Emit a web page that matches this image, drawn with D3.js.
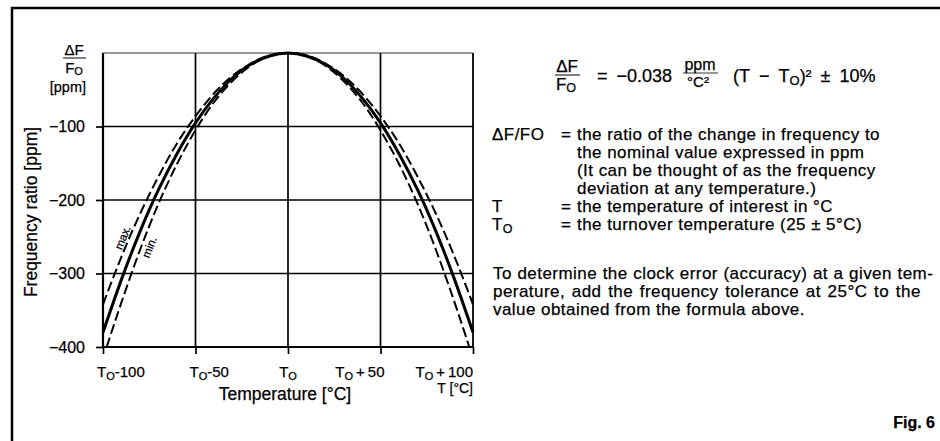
<!DOCTYPE html>
<html>
<head>
<meta charset="utf-8">
<script src="https://cdn.jsdelivr.net/npm/d3@7"></script>
<style>
  body { margin: 0; background: #fff; }
  svg { display: block; }
  text { font-family: "Liberation Sans", Arial, Helvetica, sans-serif; fill: #000; stroke: #000; stroke-width: 0.25px; }
</style>
</head>
<body>
<div id="chart"></div>
<script>
// values (temperature offset from To in °C, frequency ratio in ppm)
var tempOffsets = [-100, -90, -80, -70, -60, -50, -40, -30, -20, -10, 0, 10, 20, 30, 40, 50, 60, 70, 80, 90, 100];
var ratioNominal = [-380, -308, -243, -186, -137, -95, -61, -34, -15, -4, 0, -4, -15, -34, -61, -95, -137, -186, -243, -308, -380];
var ratioMax = [-342, -277, -219, -168, -123, -86, -55, -31, -14, -3, 0, -3, -14, -31, -55, -86, -123, -168, -219, -277, -342];
var tempOffsetsMin = [-98, -90, -80, -70, -60, -50, -40, -30, -20, -10, 0, 10, 20, 30, 40, 50, 60, 70, 80, 90, 98];
var ratioMin = [-400, -339, -268, -205, -151, -105, -67, -38, -17, -4, 0, -4, -17, -38, -67, -105, -151, -205, -268, -339, -400];

var xTicks = [-100, -50, 0, 50, 100];
var xTickSuffix = ["-100", "-50", "", "\u2009+\u200950", "\u2009+\u2009100"];
var yTicks = [-100, -200, -300, -400];
var yTickLabels = ["\u2212100", "\u2212200", "\u2212300", "\u2212400"];

var legendLines = [
  ["\u0394F/FO", "=", "the ratio of the change in frequency to"],
  ["", "", "the nominal value expressed in ppm"],
  ["", "", "(It can be thought of as the frequency"],
  ["", "", "deviation at any temperature.)"],
  ["T", "=", "the temperature of interest in \u00b0C"],
  ["To", "=", "the turnover temperature (25 \u00b1 5\u00b0C)"]
];
var noteLines = [
  "To determine the clock error (accuracy) at a given tem-",
  "perature, add the frequency tolerance at 25\u00b0C to the",
  "value obtained from the formula above."
];

var svgWidth = 940, svgHeight = 441;
var margin = { top: 53, left: 103 };
var width = 370, height = 294;

var svg = d3.select("#chart").append("svg")
  .attr("width", svgWidth)
  .attr("height", svgHeight);

// outer frame (runs off the right and bottom edges)
svg.append("rect")
  .attr("x", 12).attr("y", 8)
  .attr("width", 960).attr("height", 460)
  .attr("fill", "none").attr("stroke", "#000").attr("stroke-width", 2.5);

var chartGroup = svg.append("g")
  .attr("transform", `translate(${margin.left}, ${margin.top})`);

var xScale = d3.scaleLinear().domain([-100, 100]).range([0, width]);
var yScale = d3.scaleLinear().domain([-400, 0]).range([height, 0]);

// grid
chartGroup.selectAll(".hgrid")
  .data(yTicks.filter(d => d > -400))
  .enter().append("line")
  .attr("x1", 0).attr("x2", width)
  .attr("y1", d => yScale(d)).attr("y2", d => yScale(d))
  .attr("stroke", "#000").attr("stroke-width", 1.5);

chartGroup.selectAll(".vgrid")
  .data(xTicks.filter(d => d > -100 && d < 100))
  .enter().append("line")
  .attr("x1", d => xScale(d)).attr("x2", d => xScale(d))
  .attr("y1", 0).attr("y2", height)
  .attr("stroke", "#000").attr("stroke-width", 1.7);

// plot frame
chartGroup.append("line").attr("x1", 0).attr("x2", width).attr("y1", 0).attr("y2", 0)
  .attr("stroke", "#333").attr("stroke-width", 1);
chartGroup.append("line").attr("x1", 0).attr("x2", 0).attr("y1", 0).attr("y2", height)
  .attr("stroke", "#000").attr("stroke-width", 2.2);
chartGroup.append("line").attr("x1", width).attr("x2", width).attr("y1", 0).attr("y2", height)
  .attr("stroke", "#000").attr("stroke-width", 1.8);

// axes
var yAxis = d3.axisLeft(yScale)
  .tickValues(yTicks)
  .tickSize(7)
  .tickPadding(11)
  .tickFormat((d, i) => yTickLabels[i]);

var yG = chartGroup.append("g").call(yAxis);
yG.select(".domain").remove();
yG.selectAll("line").attr("stroke-width", 1.7);
yG.selectAll("text")
  .attr("font-size", "16px")
  .attr("font-family", "'Liberation Sans', Arial, sans-serif");

var xAxis = d3.axisBottom(xScale).tickValues(xTicks).tickSize(7).tickFormat("");
var xG = chartGroup.append("g")
  .attr("transform", `translate(0, ${height})`)
  .call(xAxis);
xG.select(".domain").attr("stroke-width", 2.2).attr("d", `M0,0H${width}`);
xG.selectAll("line").attr("stroke-width", 1.7);

// x tick labels with subscript O
xTicks.forEach(function(v, i) {
  var anchor = v < 0 ? "start" : (v > 0 ? "end" : "middle");
  var dx = v < 0 ? -6 : (v > 0 && v < 100 ? 4 : 0);
  var t = chartGroup.append("text")
    .attr("x", xScale(v) + dx)
    .attr("y", height + 30)
    .attr("text-anchor", anchor)
    .attr("font-size", "15px");
  t.append("tspan").text("T");
  t.append("tspan").attr("font-size", "11px").attr("dy", 3).text("O");
  if (xTickSuffix[i]) t.append("tspan").attr("dy", -3).text(xTickSuffix[i]);
});

// axis titles
chartGroup.append("text")
  .attr("x", xScale(0) - 3)
  .attr("y", height + 53)
  .attr("text-anchor", "middle")
  .attr("font-size", "17.5px")
  .text("Temperature [\u00b0C]");

chartGroup.append("text")
  .attr("x", width)
  .attr("y", height + 46)
  .attr("text-anchor", "end")
  .attr("font-size", "14px")
  .text("T [\u00b0C]");

svg.append("text")
  .attr("transform", "rotate(-90)")
  .attr("x", -212)
  .attr("y", 37)
  .attr("text-anchor", "middle")
  .attr("font-size", "17.5px")
  .text("Frequency ratio [ppm]");

// dF/Fo [ppm] label
svg.append("text").attr("x", 74).attr("y", 55).attr("text-anchor", "middle")
  .attr("font-size", "15px").text("\u0394F");
svg.append("line").attr("x1", 63).attr("x2", 86).attr("y1", 58).attr("y2", 58)
  .attr("stroke", "#000").attr("stroke-width", 1);
var fo = svg.append("text").attr("x", 74).attr("y", 73).attr("text-anchor", "middle")
  .attr("font-size", "15px");
fo.append("tspan").text("F");
fo.append("tspan").attr("font-size", "11px").attr("dy", 2).text("O");
svg.append("text").attr("x", 86).attr("y", 92).attr("text-anchor", "end")
  .attr("font-size", "14.5px").text("[ppm]");

// curves
var line = d3.line()
  .x(d => xScale(d[0]))
  .y(d => yScale(d[1]))
  .curve(d3.curveNatural);

chartGroup.append("path")
  .datum(d3.zip(tempOffsets, ratioMax))
  .attr("d", line)
  .attr("fill", "none").attr("stroke", "#000")
  .attr("stroke-width", 2).attr("stroke-dasharray", "10,4");

chartGroup.append("path")
  .datum(d3.zip(tempOffsetsMin, ratioMin))
  .attr("d", line)
  .attr("fill", "none").attr("stroke", "#000")
  .attr("stroke-width", 2).attr("stroke-dasharray", "10,4");

chartGroup.append("path")
  .datum(d3.zip(tempOffsets, ratioNominal))
  .attr("d", line)
  .attr("fill", "none").attr("stroke", "#000")
  .attr("stroke-width", 3);

// max. / min. labels along the left branch
chartGroup.append("text")
  .attr("transform", `translate(${xScale(-89) + 3}, ${yScale(-249) + 3}) rotate(-68)`)
  .attr("font-size", "11.5px")
  .attr("text-anchor", "middle")
  .text("max.");
chartGroup.append("text")
  .attr("transform", `translate(${xScale(-73)}, ${yScale(-262) + 3}) rotate(-68)`)
  .attr("font-size", "11.5px")
  .attr("text-anchor", "middle")
  .text("min.");

// formula
svg.append("text").attr("x", 567).attr("y", 72).attr("text-anchor", "middle")
  .attr("font-size", "17px").text("\u0394F");
svg.append("line").attr("x1", 555).attr("x2", 580).attr("y1", 75).attr("y2", 75)
  .attr("stroke", "#000").attr("stroke-width", 1);
var f2 = svg.append("text").attr("x", 566).attr("y", 90).attr("text-anchor", "middle")
  .attr("font-size", "17px");
f2.append("tspan").text("F");
f2.append("tspan").attr("font-size", "12.5px").attr("dy", 2).text("O");

svg.append("text").attr("x", 597).attr("y", 82).attr("font-size", "18px")
  .text("=\u2002\u22120.038");
svg.append("text").attr("x", 700).attr("y", 70).attr("text-anchor", "middle")
  .attr("font-size", "16px").text("ppm");
svg.append("line").attr("x1", 683).attr("x2", 718).attr("y1", 73).attr("y2", 73)
  .attr("stroke", "#000").attr("stroke-width", 0.8);
svg.append("text").attr("x", 698).attr("y", 87).attr("text-anchor", "middle")
  .attr("font-size", "15px").text("\u00b0C\u00b2");
var f3 = svg.append("text").attr("x", 733).attr("y", 82).attr("font-size", "18px");
f3.append("tspan").text("(T\u2002\u2212\u2002T");
f3.append("tspan").attr("font-size", "13px").attr("dy", 3).text("O");
f3.append("tspan").attr("dy", -3).text(")\u00b2\u2002\u00b1\u200210%");

// definitions
var lineGap = 18;
var defs = svg.append("g").attr("font-size", "17px").attr("letter-spacing", "0.45px");
legendLines.forEach(function(row, i) {
  var y = 140 + i * lineGap;
  if (row[0] === "To") {
    var t = defs.append("text").attr("x", 492).attr("y", y);
    t.append("tspan").text("T");
    t.append("tspan").attr("font-size", "12.5px").attr("dy", 3).text("O");
  } else if (row[0]) {
    defs.append("text").attr("x", 492).attr("y", y).text(row[0]);
  }
  if (row[1]) defs.append("text").attr("x", 561).attr("y", y).text(row[1]);
  defs.append("text").attr("x", 577).attr("y", y).text(row[2]);
});

var notes = svg.append("g").attr("font-size", "17px").attr("letter-spacing", "0.45px");
noteLines.forEach(function(s, i) {
  notes.append("text")
    .attr("x", 493).attr("y", 279 + i * lineGap)
    .attr("word-spacing", i === 0 ? "0.4px" : (i === 1 ? "1.5px" : "0px"))
    .text(s);
});

svg.append("text")
  .attr("x", 935).attr("y", 428)
  .attr("text-anchor", "end")
  .attr("font-size", "16px").attr("font-weight", "bold")
  .text("Fig. 6");
</script>
</body>
</html>
